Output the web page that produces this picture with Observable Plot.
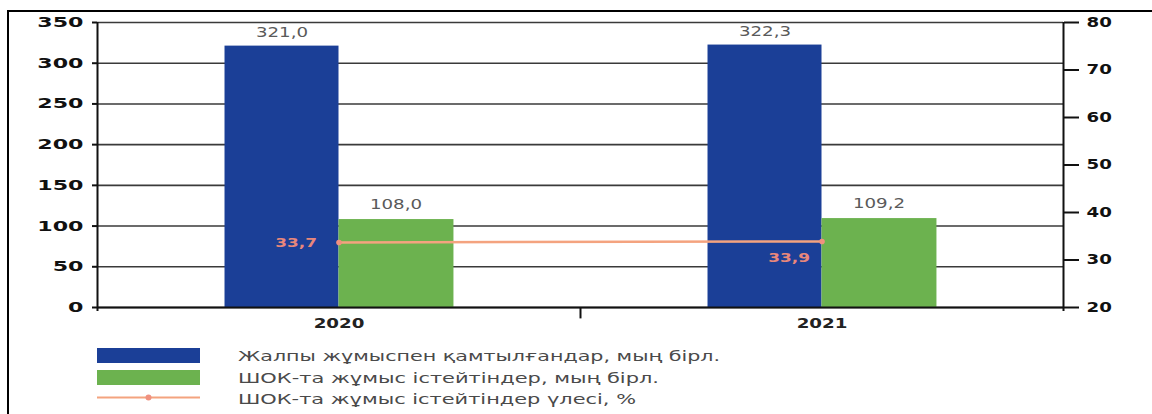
<!DOCTYPE html>
<html>
<head>
<meta charset="utf-8">
<script src="https://cdn.jsdelivr.net/npm/d3@7"></script>
<script src="https://cdn.jsdelivr.net/npm/@observablehq/plot@0.6"></script>
<style>
  html, body { margin: 0; padding: 0; background: #fff; }
  #wrap { position: relative; width: 1152px; height: 414px; overflow: hidden; font-family: "DejaVu Sans", sans-serif; }
  #frame { position: absolute; left: 7px; top: 10px; width: 1200px; height: 500px; border-top: 2.5px solid #000; border-left: 2.5px solid #000; pointer-events: none; }
  #chart { position: absolute; left: 0; top: 0; }
  #legend { position: absolute; left: 0; top: 0; }
</style>
</head>
<body>
<div id="wrap">
  <div id="chart"></div>
  <svg id="legend" width="1152" height="414"></svg>
  <div id="frame"></div>
</div>
<script>
// ---- data ----
const years = [2020, 2021];
const totalEmployed = [321.0, 322.3];   // мың бірл.
const smeEmployed = [108.0, 109.2];     // мың бірл.
const smeShare = [33.7, 33.9];          // %
const leftTicks = [0, 50, 100, 150, 200, 250, 300, 350];
const rightTicks = [20, 30, 40, 50, 60, 70, 80];
const seriesNames = [
  "Жалпы жұмыспен қамтылғандар, мың бірл.",
  "ШОК-та жұмыс істейтіндер, мың бірл.",
  "ШОК-та жұмыс істейтіндер үлесі, %"
];
const colors = ["#1b3f97", "#6cb24f", "#f4a37f"];

// ---- derived tables ----
const rows = years.map((y, i) => ({year: y, total: totalEmployed[i], sme: smeEmployed[i], share: smeShare[i]}));
const leftMax = 350, rightMin = 20, rightMax = 80;
const toLeft = v => (v - rightMin) * leftMax / (rightMax - rightMin);
const fromLeft = v => Math.round(rightMin + v * (rightMax - rightMin) / leftMax);
const fmt = v => v.toFixed(1).replace(".", ",");
const bw = 0.236; // bar width in year units

const plot = Plot.plot({
  width: 1152,
  height: 340,
  marginTop: 22,
  marginBottom: 33,
  marginLeft: 97,
  marginRight: 89,
  style: {fontFamily: "DejaVu Sans, sans-serif", background: "transparent"},
  x: {domain: [2019.5, 2021.5], label: null},
  y: {domain: [0, leftMax], label: null},
  marks: [
    Plot.gridY(leftTicks, {stroke: "#3a3a3a", strokeOpacity: 1, strokeWidth: 1.6}),
    Plot.rectY(rows, {x1: d => d.year - bw, x2: d => d.year, y1: 0, y2: "total", fill: colors[0]}),
    Plot.rectY(rows, {x1: d => d.year, x2: d => d.year + bw + 0.002, y1: 0, y2: "sme", fill: colors[1]}),
    Plot.text(rows, {x: d => d.year - bw / 2, y: "total", text: d => fmt(d.total), dy: -14, fill: "#5a5a5a", fontSize: 14}),
    Plot.text(rows, {x: d => d.year + bw / 2, y: "sme", text: d => fmt(d.sme), dy: -15, fill: "#5a5a5a", fontSize: 14}),
    // axis lines
    Plot.ruleY([0], {stroke: "#111", strokeWidth: 2}),
    Plot.ruleX([2019.5, 2021.5], {y1: -5, y2: leftMax, stroke: "#111", strokeWidth: 2}),
    Plot.ruleX([2020.5], {y1: 0, y2: -14, stroke: "#111", strokeWidth: 2}),
    Plot.axisY(leftTicks, {anchor: "left", tickSize: 5, tickPadding: 9, tickFormat: d => String(d), fontSize: 14, fontWeight: "bold", stroke: "#111", strokeWidth: 2, fill: "#111", label: null}),
    Plot.axisY(rightTicks.map(toLeft), {anchor: "right", tickSize: 15, tickPadding: 8, tickFormat: fromLeft, fontSize: 14, fontWeight: "bold", stroke: "#111", strokeWidth: 2, fill: "#111", label: null}),
    Plot.axisX(years, {tickSize: 0, tickPadding: 11, tickFormat: d => String(d), fontSize: 14, fontWeight: "bold", fill: "#222", label: null}),
    // share line
    Plot.line(rows, {x: "year", y: d => toLeft(d.share), stroke: colors[2], strokeWidth: 2.5}),
    Plot.dot(rows, {x: "year", y: d => toLeft(d.share), r: 2.8, fill: "#f0917f"}),
    Plot.text(rows, {filter: (d, i) => i === 0, x: "year", y: d => toLeft(d.share), text: d => fmt(d.share), textAnchor: "end", dx: -22, fontSize: 13, fontWeight: "bold", fill: "#e8877b"}),
    Plot.text(rows, {filter: (d, i) => i === 1, x: "year", y: d => toLeft(d.share), text: d => fmt(d.share), textAnchor: "end", dx: -12, dy: 16, fontSize: 13, fontWeight: "bold", fill: "#e8877b"})
  ]
});
document.getElementById("chart").appendChild(plot);

// horizontally widen the glyphs to match the stretched reference
function stretch(nodes, k) {
  nodes.forEach(t => {
    const w = t.getComputedTextLength();
    if (w > 0) {
      t.setAttribute("textLength", (w * k).toFixed(1));
      t.setAttribute("lengthAdjust", "spacingAndGlyphs");
    }
  });
}
const allTexts = Array.from(plot.querySelectorAll("text"));
const leftAxisTexts = Array.from(plot.querySelectorAll('g[aria-label="y-axis tick label"][text-anchor="end"] text'));
stretch(allTexts.filter(t => !leftAxisTexts.includes(t)), 1.3);
stretch(leftAxisTexts, 1.58);

// ---- legend ----
const lg = d3.select("#legend");
const lx = 97, lw = 103, tx = 238;
const rowY = [355.5, 377.5, 398.5];
const textLens = [482, 421, 398];
lg.append("rect").attr("x", lx).attr("y", rowY[0] - 7.5).attr("width", lw).attr("height", 15).attr("fill", colors[0]);
lg.append("rect").attr("x", lx).attr("y", rowY[1] - 7.5).attr("width", lw).attr("height", 15).attr("fill", colors[1]);
lg.append("line").attr("x1", lx).attr("x2", lx + lw).attr("y1", rowY[2] - 1).attr("y2", rowY[2] - 1).attr("stroke", colors[2]).attr("stroke-width", 2);
lg.append("circle").attr("cx", lx + lw / 2).attr("cy", rowY[2] - 1).attr("r", 3).attr("fill", "#f0917f");
seriesNames.forEach((name, i) => {
  lg.append("text")
    .attr("x", tx).attr("y", rowY[i]).attr("dy", "0.36em")
    .attr("font-family", "DejaVu Sans, sans-serif").attr("font-size", 14)
    .attr("fill", "#4a4a4a")
    .attr("textLength", textLens[i]).attr("lengthAdjust", "spacingAndGlyphs")
    .text(name);
});
</script>
</body>
</html>
